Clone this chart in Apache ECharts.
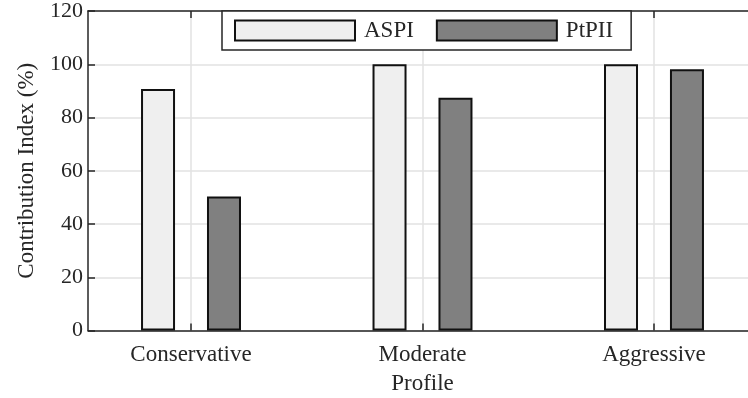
<!DOCTYPE html>
<html>
<head>
<meta charset="utf-8">
<script src="https://cdn.jsdelivr.net/npm/echarts@6/dist/echarts.min.js"></script>
<style>
html,body{margin:0;padding:0;background:#fff;}
#chart{width:748px;height:398px;}
</style>
</head>
<body>
<div id="chart"></div>
<script>
const categories = ['Conservative', 'Moderate', 'Aggressive'];
const categoryPositions = [1, 2, 3];
const aspi = [90.7, 100, 100];
const ptpii = [50.3, 87.4, 98.1];
const seriesNames = ['ASPI', 'PtPII'];
const yTicks = [0, 20, 40, 60, 80, 100, 120];

const FONT = 'Liberation Serif';
const INK = '#262626';

const chart = echarts.init(document.getElementById('chart'));
const xAxisCommon = {
  type: 'value',
  min: 0.555,
  max: 3.445,
  axisLine: { show: true, onZero: false, lineStyle: { color: INK, width: 1.5 } },
  axisTick: { show: true, inside: true, length: 7, customValues: categoryPositions, lineStyle: { color: INK, width: 1.5 } }
};
chart.setOption({
  animation: false,
  backgroundColor: '#fff',
  grid: { left: 88, top: 11, right: -9, bottom: 67.5, containLabel: false, outerBoundsMode: 'none' },
  legend: {
    data: seriesNames,
    left: 222,
    top: 11,
    itemWidth: 120,
    itemHeight: 20,
    itemGap: 22,
    padding: [8, 18, 8, 12],
    backgroundColor: '#fff',
    borderColor: INK,
    borderWidth: 1.5,
    borderRadius: 0,
    icon: 'rect',
    textStyle: { fontFamily: FONT, fontSize: 23, color: INK, padding: [0, 0, 0, 4] },
    z: 10
  },
  xAxis: [
    Object.assign({}, xAxisCommon, {
      position: 'bottom',
      name: 'Profile',
      nameLocation: 'middle',
      nameGap: 42,
      nameTextStyle: { fontFamily: FONT, fontSize: 23, color: INK },
      axisLabel: {
        customValues: categoryPositions,
        margin: 13,
        fontFamily: FONT, fontSize: 23, color: INK,
        formatter: v => categories[categoryPositions.indexOf(v)] || ''
      },
      splitLine: { show: true, lineStyle: { color: '#e2e2e2', width: 1.5 } }
    }),
    Object.assign({}, xAxisCommon, {
      position: 'top',
      axisLabel: { show: false },
      splitLine: { show: false }
    })
  ],
  yAxis: {
    type: 'value',
    min: yTicks[0],
    max: yTicks[yTicks.length - 1],
    interval: 20,
    name: 'Contribution Index (%)',
    nameLocation: 'middle',
    nameGap: 50,
    nameTextStyle: { fontFamily: FONT, fontSize: 23, color: INK },
    axisLine: { show: true, lineStyle: { color: INK, width: 1.5 } },
    axisTick: { show: true, inside: true, length: 7, lineStyle: { color: INK, width: 1.5 } },
    axisLabel: { margin: 5, fontFamily: FONT, fontSize: 22, color: INK },
    splitLine: { show: true, lineStyle: { color: '#e2e2e2', width: 1.5 } }
  },
  series: [
    {
      name: seriesNames[0],
      type: 'bar',
      xAxisIndex: 0,
      barWidth: 34,
      barGap: '94%',
      itemStyle: { color: '#efefef', borderColor: '#111', borderWidth: 2 },
      data: categoryPositions.map((x, i) => [x, aspi[i]])
    },
    {
      name: seriesNames[1],
      type: 'bar',
      xAxisIndex: 0,
      barWidth: 34,
      barGap: '94%',
      itemStyle: { color: '#808080', borderColor: '#111', borderWidth: 2 },
      data: categoryPositions.map((x, i) => [x, ptpii[i]])
    }
  ]
});
</script>
</body>
</html>
